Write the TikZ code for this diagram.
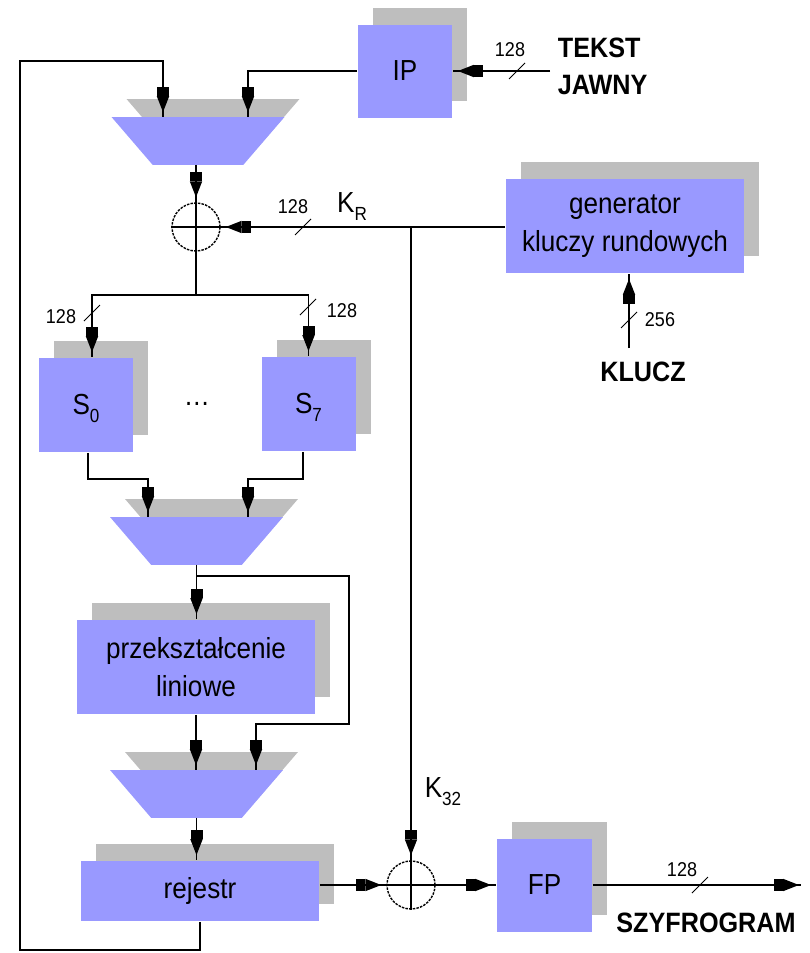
\documentclass[tikz,border=0pt]{standalone}
\usepackage{fontspec}
\setmainfont[FakeStretch=0.9]{Liberation Sans}
\usetikzlibrary{arrows.meta,decorations.markings,shadows}
\definecolor{boxblue}{RGB}{153,153,255}
\definecolor{shgray}{RGB}{190,190,190}
\newcommand\lowidx[1]{\smash{\raisebox{-8pt}{\fontsize{19}{19}\selectfont #1}}}
\newcommand\muxfill[1]{%
  \fill[shgray] ([shift={(15pt,18pt)}]#1.north west) -- ([shift={(15pt,18pt)}]#1.north east)
    -- ([shift={(-26pt,18pt)}]#1.south east) -- ([shift={(56pt,18pt)}]#1.south west) -- cycle;
  \fill[boxblue] (#1.north west) -- (#1.north east)
    -- ([xshift=-41pt]#1.south east) -- ([xshift=41pt]#1.south west) -- cycle;}
\tikzset{
  pinhead/.tip={Rectangle[length=9pt,width=12pt] Triangle[length=16pt,width=12pt]},
  flow/.style={postaction=decorate,
    decoration={markings, mark=at position -#1 with {\arrow{pinhead}}}},
  flow/.default=5pt,
  box/.style={fill=boxblue, inner sep=0pt, align=center,
    font=\fontsize{29}{38}\selectfont,
    drop shadow={shadow xshift=15pt, shadow yshift=17pt, fill=shgray, opacity=1}},
  muxnode/.style={inner sep=0pt, minimum width=171pt, minimum height=46pt},
  xor/.style={circle, minimum size=48pt, inner sep=0pt, draw, line width=1.4pt,
    dash pattern=on 2.5pt off 1.2pt},
  lab/.style={inner sep=0pt, font=\fontsize{20}{20}\selectfont},
  klab/.style={inner sep=0pt, font=\fontsize{29}{29}\selectfont},
  big/.style={inner sep=0pt, align=left, font=\bfseries\fontsize{28}{37}\selectfont},
  busslash/.pic={\draw[line width=1pt] (-8,8) -- (8,-8);}
}
\begin{document}
\begin{tikzpicture}[x=1pt, y=-1pt, line width=1.7pt]
\useasboundingbox (0,0) rectangle (809,953);

% blocks
\node[box, minimum width=94pt, minimum height=93pt] (ip) at (405,71) {IP};
\node[box, minimum width=238pt, minimum height=94pt] (gen) at (625,226) {generator\\kluczy rundowych};
\node[box, minimum width=94pt, minimum height=94pt] (s0) at (86,405) {S\lowidx{0}};
\node[box, minimum width=94pt, minimum height=94pt] (s7) at (308.5,404) {S\lowidx{7}};
\node[box, minimum width=238pt, minimum height=94pt] (lin) at (196,667) {przekształcenie\\liniowe};
\node[box, minimum width=238pt, minimum height=60pt] (rej) at (200,891) {rejestr};
\node[box, minimum width=95pt, minimum height=93pt] (fp) at (544.5,885) {FP};

% multiplexers
\node[muxnode] (m1) at (198,141) {};
\node[muxnode] (m2) at (196.5,541) {};
\node[muxnode] (m3) at (196.5,794) {};
\muxfill{m1}
\muxfill{m2}
\muxfill{m3}

% XOR gates
\node[xor] (x1) at (196,227) {};
\node[xor] (x2) at (411,885) {};
\draw (x1.north) -- (x1.south) (x1.west) -- (x1.east);
\draw (x2.north) -- (x2.south) (x2.west) -- (x2.east);

% free ends and bends
\coordinate (tin) at (550,71);
\coordinate (kin) at (629,348);
\coordinate (fout) at (801,885);
\coordinate (sp) at (196,295);
\coordinate (fb) at (20,950);
\coordinate (fb2) at (20,61);

% connections
\draw[flow] (tin) -- (ip.east);
\draw[flow] (ip.west) -| ([xshift=50pt]m1.north);
\draw[flow] (rej.south) |- (fb) -- (fb2) -| ([xshift=-35pt]m1.north);
\draw[flow] (m1.south -| x1.north) -- (x1.north);
\draw[flow] (gen.west |- x1.east) -- (x1.east);
\draw[flow] (x2.north |- x1.east) -- (x2.north);
\draw (x1.south) -- (sp);
\draw[flow] (sp) -| ([xshift=6pt]s0.north);
\draw[flow] (sp) -| (s7.north);
\draw[flow] ([xshift=2pt]s0.south) -- ++(0,26) -| ([xshift=-48.5pt]m2.north);
\draw[flow] ([xshift=-5.5pt]s7.south) -- ++(0,27) -| ([xshift=51.5pt]m2.north);
\draw[flow] (m2.south) -- (m2.south |- lin.north);
\draw[flow] (m2.south) -- ++(0,11) -- ++(152.5,0) -- ++(0,148) -| ([xshift=59.5pt]m3.north);
\draw[flow] (lin.south) -- (lin.south |- m3.north);
\draw[flow] (m3.south) -- (m3.south |- rej.north);
\draw[flow] (rej.east |- x2.west) -- (x2.west);
\draw[flow] (x2.east) -- (fp.west);
\draw[flow=2pt] (fp.east) -- (fout);
\draw[flow] (kin) -- (kin |- gen.south);

% bus width marks
\pic at (517,71) {busslash};
\pic at (303,227) {busslash};
\pic at (92,313) {busslash};
\pic at (308,307) {busslash};
\pic at (629,320) {busslash};
\pic at (700,885) {busslash};

% labels
\node[lab] at (510,50) {128};
\node[lab] at (293,207) {128};
\node[klab] at (352,203) {K\lowidx{R}};
\node[lab] at (61,317) {128};
\node[lab] at (342,311) {128};
\node[lab] at (660,320) {256};
\node[klab] at (443,788) {K\lowidx{32}};
\node[lab] at (682,870) {128};
\node[klab] at (197,404) {…};
\node[big, anchor=west] at (557,66.5) {TEKST\\JAWNY};
\node[big] at (643,372) {KLUCZ};
\node[big] at (706,923) {SZYFROGRAM};
\end{tikzpicture}
\end{document}
